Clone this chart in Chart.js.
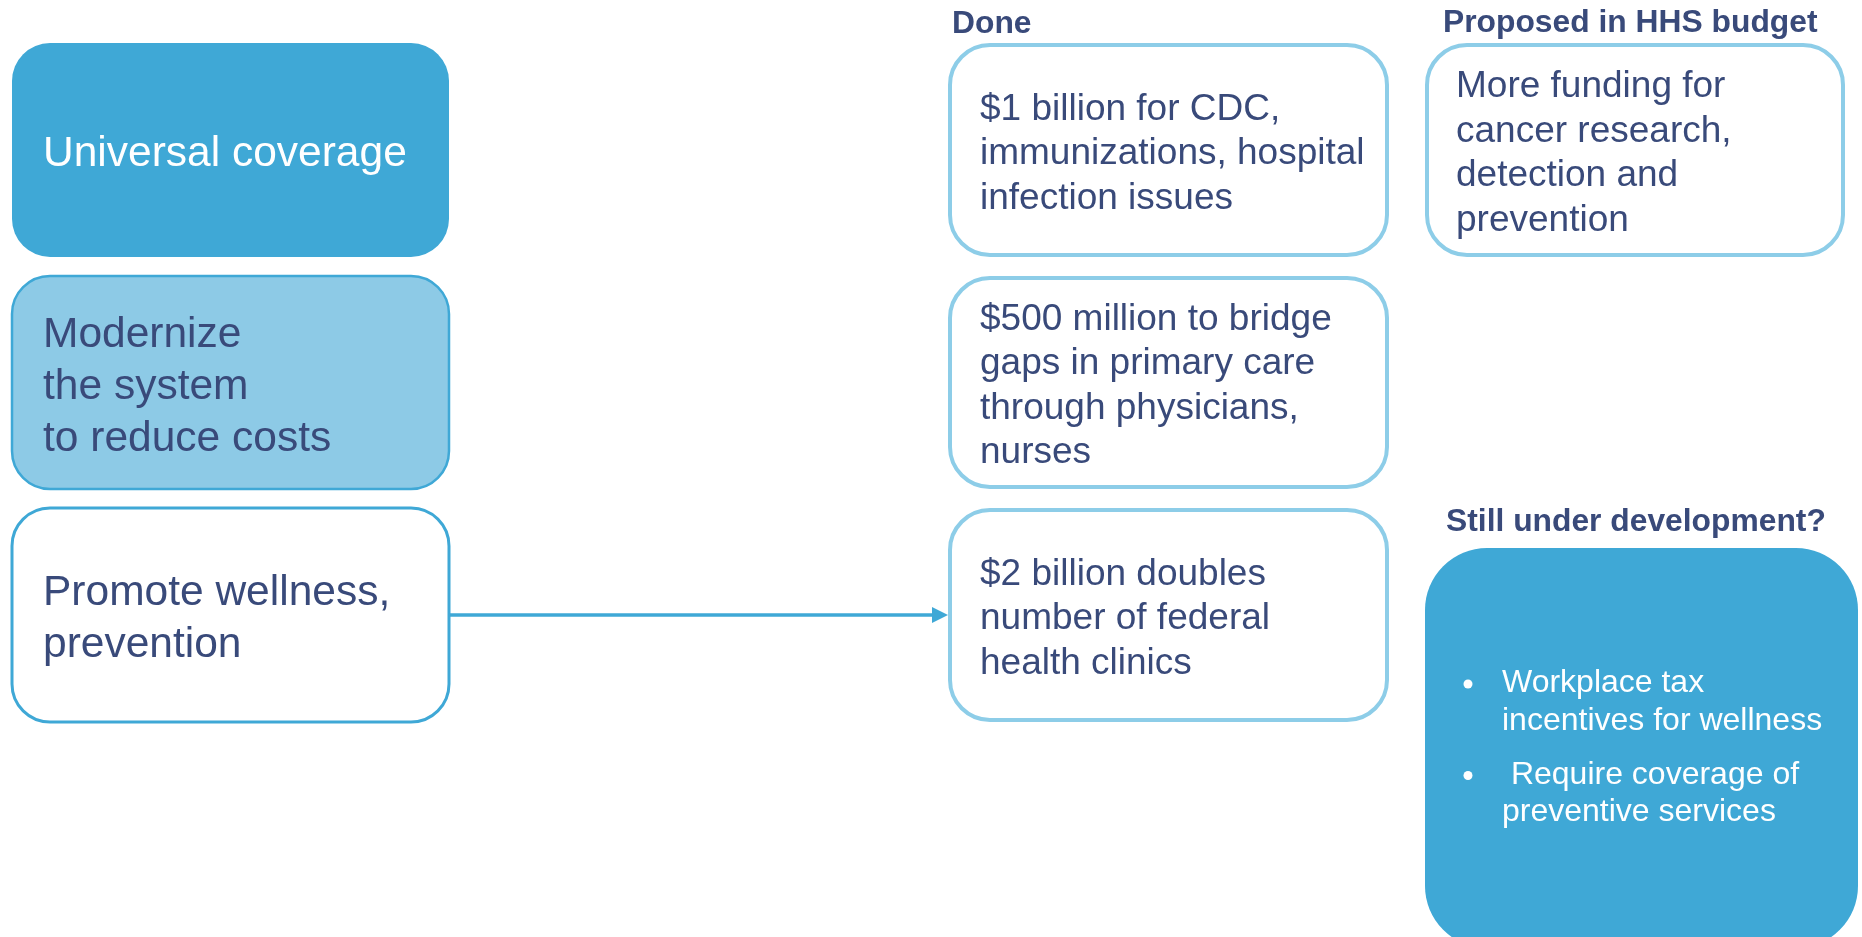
<!DOCTYPE html>
<html>
<head>
<meta charset="utf-8">
<title>Health care priorities</title>
<script src="https://cdn.jsdelivr.net/npm/chart.js@4/dist/chart.umd.min.js"></script>
<style>
  html, body { margin: 0; padding: 0; background: #fff; overflow: hidden; }
  canvas { display: block; }
</style>
</head>
<body>
<canvas id="diagram" width="1862" height="937"></canvas>
<script>
// diagram content
const headers = ['Done', 'Proposed in HHS budget', 'Still under development?'];
const goals = [
    ['Universal coverage'],
    ['Modernize', 'the system', 'to reduce costs'],
    ['Promote wellness,', 'prevention']
];
const done = [
    ['$1 billion for CDC,', 'immunizations, hospital', 'infection issues'],
    ['$500 million to bridge', 'gaps in primary care', 'through physicians,', 'nurses'],
    ['$2 billion doubles', 'number of federal', 'health clinics']
];
const proposed = [
    ['More funding for', 'cancer research,', 'detection and', 'prevention']
];
const underDevelopment = [
    ['Workplace tax', 'incentives for wellness'],
    [' Require coverage of', 'preventive services']
];
// the goal row that links to the "Done" column
const arrowRow = 2;

// layout (diagram units, same as the 1862 x 937 page)
const FONT = '"Liberation Sans", Arial, sans-serif';
const NAVY = '#394a7a';
const BLUE = '#3fa8d6';
const PALE = '#8dcae6';
const EDGE = '#8dcde8';

const rowTop = [43, 276, 508];
const rowBottom = [257, 489, 722];
const goalCol = { left: 12, right: 449, textX: 43 };
const doneCol = { left: 950, right: 1387, textX: 980 };
const propCol = { left: 1427, right: 1843, textX: 1456 };
const devBox = { left: 1425, right: 1858, top: 548, bottom: 948, textX: 1502, bulletX: 1468 };
const headerPos = [{ x: 952, y: 33 }, { x: 1443, y: 32 }, { x: 1446, y: 531 }];
const goalStyles = [
    { fill: BLUE, stroke: BLUE, lw: 0, text: '#ffffff' },
    { fill: PALE, stroke: BLUE, lw: 2.5, text: NAVY },
    { fill: '#ffffff', stroke: BLUE, lw: 3, text: NAVY }
];

function rowCenter(i) {
    return (rowTop[i] + rowBottom[i]) / 2;
}

function drawBox(ctx, s, l, t, r, b, radius, fill, stroke, lw) {
    const x0 = s.x.getPixelForValue(l), x1 = s.x.getPixelForValue(r);
    const y0 = s.y.getPixelForValue(t), y1 = s.y.getPixelForValue(b);
    ctx.beginPath();
    ctx.roundRect(x0, y0, x1 - x0, y1 - y0, radius);
    ctx.fillStyle = fill;
    ctx.fill();
    if (lw > 0) {
        ctx.lineWidth = lw;
        ctx.strokeStyle = stroke;
        ctx.stroke();
    }
}

function drawLines(ctx, s, lines, x, cy, size, lh, color) {
    ctx.font = size + 'px ' + FONT;
    ctx.fillStyle = color;
    ctx.textAlign = 'left';
    ctx.textBaseline = 'alphabetic';
    lines.forEach((line, i) => {
        const y = cy + (i - (lines.length - 1) / 2) * lh + size * 0.38;
        ctx.fillText(line, s.x.getPixelForValue(x), s.y.getPixelForValue(y));
    });
}

const boxesPlugin = {
    id: 'boxes',
    beforeDatasetsDraw(chart) {
        const ctx = chart.ctx, s = chart.scales;
        ctx.save();
        goals.forEach((g, i) => {
            const st = goalStyles[i];
            drawBox(ctx, s, goalCol.left, rowTop[i], goalCol.right, rowBottom[i], 38, st.fill, st.stroke, st.lw);
        });
        done.forEach((d, i) => {
            drawBox(ctx, s, doneCol.left, rowTop[i] + 2, doneCol.right, rowBottom[i] - 2, 40, '#ffffff', EDGE, 4);
        });
        proposed.forEach((p, i) => {
            drawBox(ctx, s, propCol.left, rowTop[i] + 2, propCol.right, rowBottom[i] - 2, 40, '#ffffff', EDGE, 4);
        });
        drawBox(ctx, s, devBox.left, devBox.top, devBox.right, devBox.bottom, 62, BLUE, BLUE, 0);
        ctx.restore();
    },
    afterDatasetsDraw(chart) {
        const ctx = chart.ctx, s = chart.scales;
        ctx.save();
        // arrow head at the end of the link line
        const tipX = s.x.getPixelForValue(doneCol.left - 2);
        const ay = s.y.getPixelForValue(rowCenter(arrowRow));
        ctx.beginPath();
        ctx.moveTo(tipX, ay);
        ctx.lineTo(tipX - 16, ay - 8);
        ctx.lineTo(tipX - 16, ay + 8);
        ctx.closePath();
        ctx.fillStyle = BLUE;
        ctx.fill();

        // headers
        ctx.font = 'bold 31.8px ' + FONT;
        ctx.fillStyle = NAVY;
        ctx.textAlign = 'left';
        ctx.textBaseline = 'alphabetic';
        headers.forEach((h, i) => {
            ctx.fillText(h, s.x.getPixelForValue(headerPos[i].x), s.y.getPixelForValue(headerPos[i].y));
        });

        goals.forEach((g, i) => drawLines(ctx, s, g, goalCol.textX, rowCenter(i), 42.5, 52, goalStyles[i].text));
        done.forEach((d, i) => drawLines(ctx, s, d, doneCol.textX, rowCenter(i), 37, 44.5, NAVY));
        proposed.forEach((p, i) => drawLines(ctx, s, p, propCol.textX, rowCenter(i), 37, 44.5, NAVY));

        // bullet list in the "still under development" box
        const size = 32, lh = 37.5, gap = 16.5;
        let total = 0;
        underDevelopment.forEach((b, i) => { total += b.length * lh + (i ? gap : 0); });
        let y = (devBox.top + devBox.bottom - 6) / 2 - total / 2 + lh / 2;
        ctx.font = size + 'px ' + FONT;
        ctx.fillStyle = '#ffffff';
        underDevelopment.forEach((b) => {
            ctx.beginPath();
            ctx.arc(s.x.getPixelForValue(devBox.bulletX), s.y.getPixelForValue(y + size * 0.36 - 8), 4.5, 0, Math.PI * 2);
            ctx.fill();
            b.forEach((line) => {
                ctx.fillText(line, s.x.getPixelForValue(devBox.textX), s.y.getPixelForValue(y + size * 0.36));
                y += lh;
            });
            y += gap;
        });
        ctx.restore();
    }
};

new Chart(document.getElementById('diagram'), {
    type: 'line',
    data: {
        datasets: [{
            label: 'link',
            data: [
                { x: goalCol.right, y: rowCenter(arrowRow) },
                { x: doneCol.left - 14, y: rowCenter(arrowRow) }
            ],
            borderColor: BLUE,
            borderWidth: 3.5,
            pointRadius: 0,
            fill: false
        }]
    },
    options: {
        responsive: false,
        devicePixelRatio: 1,
        animation: false,
        layout: { padding: 0 },
        scales: {
            x: { type: 'linear', min: 0, max: 1862, display: false },
            y: { type: 'linear', min: 0, max: 937, reverse: true, display: false }
        },
        plugins: {
            legend: { display: false },
            tooltip: { enabled: false }
        }
    },
    plugins: [boxesPlugin]
});
</script>
</body>
</html>
